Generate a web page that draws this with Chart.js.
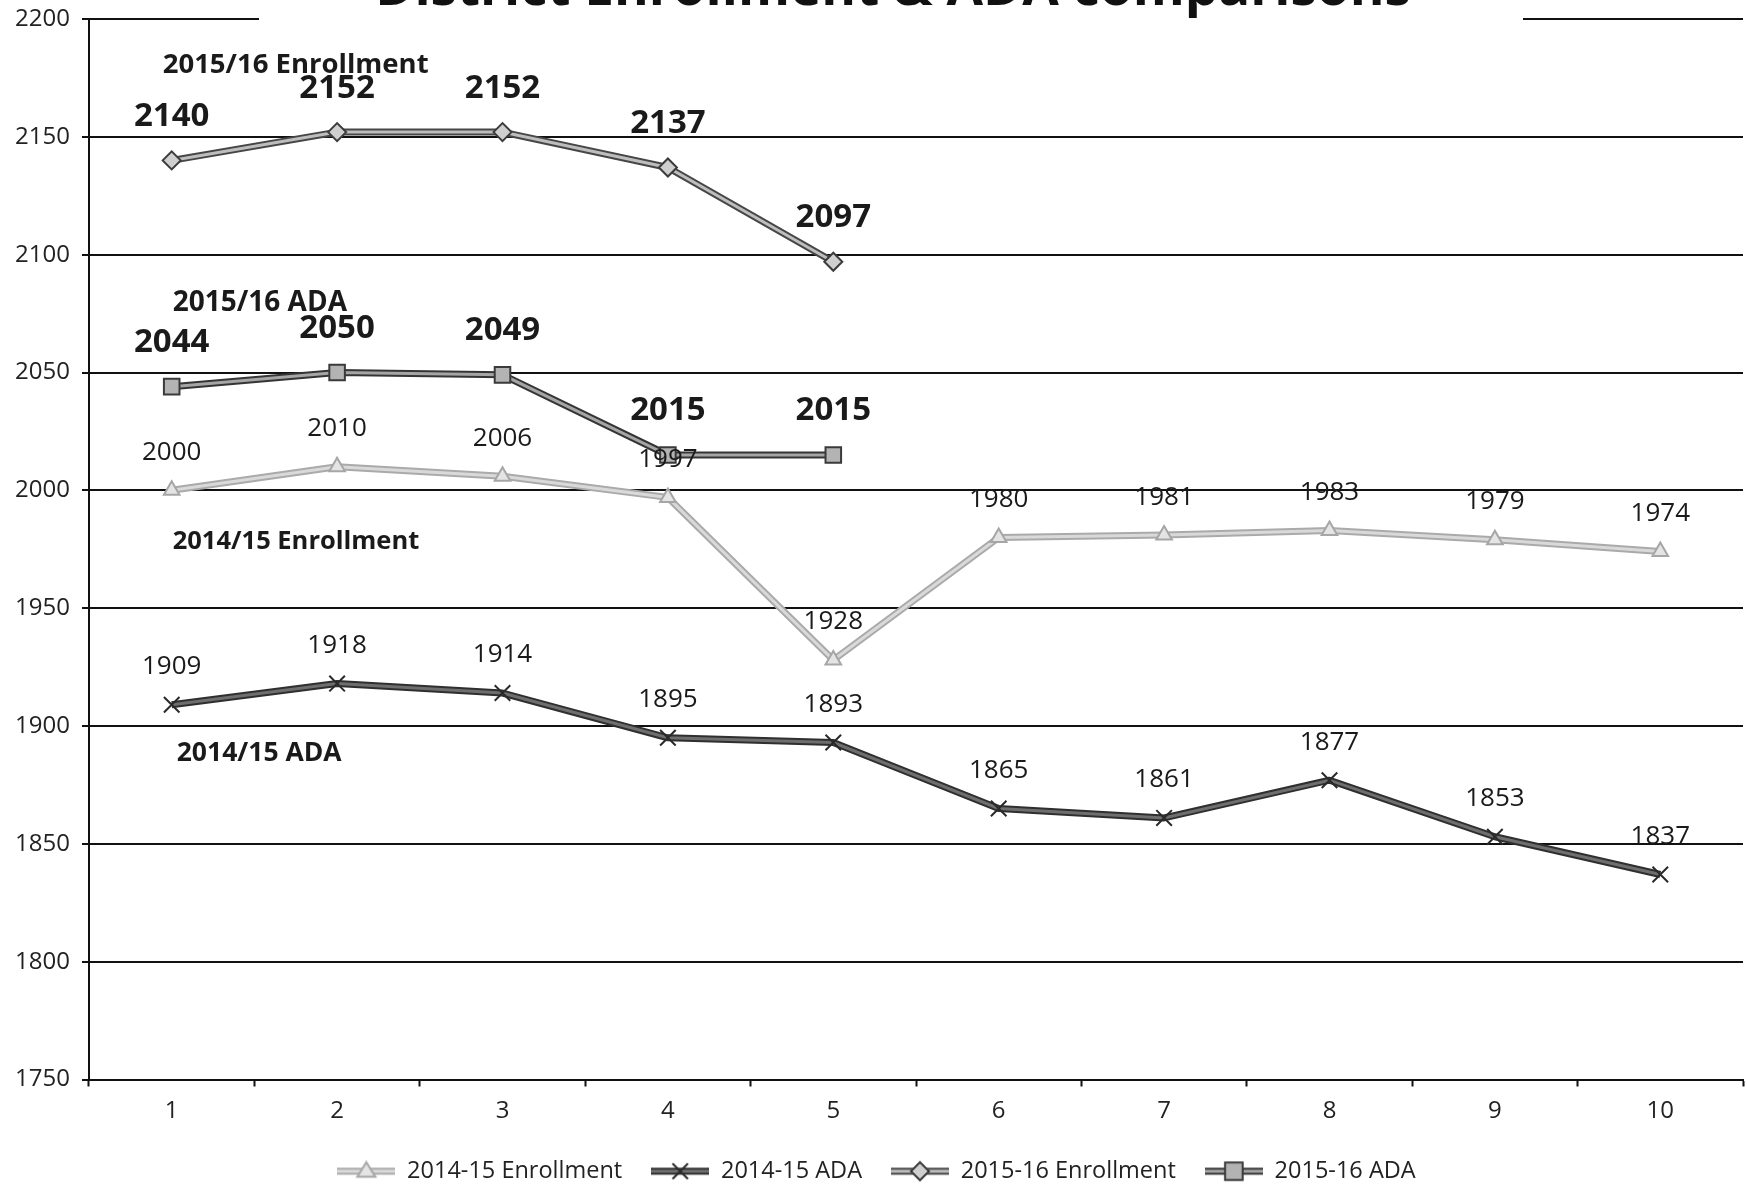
<!DOCTYPE html>
<html>
<head>
<meta charset="utf-8">
<script src="https://cdn.jsdelivr.net/npm/chart.js@4.4.1/dist/chart.umd.min.js"></script>
<style>
  html, body { margin: 0; padding: 0; background: #fff; overflow: hidden; }
  #wrap { position: relative; width: 1756px; height: 1193px; }
</style>
</head>
<body>
<div id="wrap"><canvas id="grafico"></canvas></div>
<script>
// Datos
const MESES = ['1', '2', '3', '4', '5', '6', '7', '8', '9', '10'];
const MATRICULA_1415 = [2000, 2010, 2006, 1997, 1928, 1980, 1981, 1983, 1979, 1974];
const ADA_1415 = [1909, 1918, 1914, 1895, 1893, 1865, 1861, 1877, 1853, 1837];
const MATRICULA_1516 = [2140, 2152, 2152, 2137, 2097, null, null, null, null, null];
const ADA_1516 = [2044, 2050, 2049, 2015, 2015, null, null, null, null, null];
const Y_MIN = 1750;
const Y_MAX = 2200;
const Y_PASO = 50;

const TITULO = 'District Enrollment & ADA comparisons';

// Etiquetas de serie escritas dentro del área del gráfico
const NOTAS = [
    { texto: '2015/16 Enrollment', valor: 2180.5, dx: -9, tam: 27.5 },
    { texto: '2015/16 ADA', valor: 2079.4, dx: 1, tam: 28 },
    { texto: '2014/15 Enrollment', valor: 1978.4, dx: 1, tam: 25.5 },
    { texto: '2014/15 ADA', valor: 1888.4, dx: 5, tam: 26.5 },
];

const FUENTE = '"Open Sans", "Liberation Sans", sans-serif';
Chart.defaults.font.family = FUENTE;
Chart.defaults.color = '#222';

/** Icono de leyenda: tramo de línea con el marcador en medio. */
function iconoLeyenda(serie) {
    const c = document.createElement('canvas');
    c.width = 58;
    c.height = 22;
    const g = c.getContext('2d');
    g.lineCap = 'butt';
    g.strokeStyle = serie.contorno;
    g.lineWidth = 7;
    g.beginPath(); g.moveTo(0, 11); g.lineTo(58, 11); g.stroke();
    g.strokeStyle = serie.borderColor;
    g.lineWidth = 3;
    g.beginPath(); g.moveTo(0, 11); g.lineTo(58, 11); g.stroke();
    g.fillStyle = serie.pointBackgroundColor;
    g.strokeStyle = serie.pointBorderColor;
    g.lineWidth = serie.pointBorderWidth;
    g.beginPath();
    const r = serie.pointRadius;
    if (serie.pointStyle === 'triangle') {
        g.moveTo(29, 11 - r); g.lineTo(29 + r, 11 + r * 0.6); g.lineTo(29 - r, 11 + r * 0.6); g.closePath();
        g.fill(); g.stroke();
    } else if (serie.pointStyle === 'crossRot') {
        g.moveTo(29 - r * 0.7, 11 - r * 0.7); g.lineTo(29 + r * 0.7, 11 + r * 0.7);
        g.moveTo(29 + r * 0.7, 11 - r * 0.7); g.lineTo(29 - r * 0.7, 11 + r * 0.7);
        g.stroke();
    } else if (serie.pointStyle === 'rectRot') {
        g.moveTo(29, 11 - r); g.lineTo(29 + r, 11); g.lineTo(29, 11 + r); g.lineTo(29 - r, 11); g.closePath();
        g.fill(); g.stroke();
    } else {
        const l = r * 0.8;
        g.rect(29 - l, 11 - l, l * 2, l * 2);
        g.fill(); g.stroke();
    }
    return c;
}

// Contorno oscuro de cada línea, como en el original escaneado
const contornoLineas = {
    id: 'contornoLineas',
    beforeDatasetDraw(chart, args) {
        const ds = chart.data.datasets[args.index];
        const meta = args.meta;
        const g = chart.ctx;
        g.save();
        g.strokeStyle = ds.contorno;
        g.lineWidth = ds.borderWidth + 4;
        g.lineJoin = 'round';
        g.beginPath();
        let empezado = false;
        meta.data.forEach((p, i) => {
            if (ds.data[i] == null) return;
            if (!empezado) { g.moveTo(p.x, p.y); empezado = true; } else { g.lineTo(p.x, p.y); }
        });
        g.stroke();
        g.restore();
    },
};

// Valores encima de cada punto y nombres de serie
const etiquetasValor = {
    id: 'etiquetasValor',
    afterDatasetsDraw(chart) {
        const g = chart.ctx;
        g.save();
        g.textAlign = 'center';
        g.textBaseline = 'middle';
        chart.data.datasets.forEach((ds, di) => {
            const meta = chart.getDatasetMeta(di);
            g.font = ds.fuenteValor;
            g.fillStyle = '#1a1a1a';
            meta.data.forEach((p, i) => {
                if (ds.data[i] == null) return;
                g.fillText(String(ds.data[i]), p.x, p.y - ds.alturaValor);
            });
        });
        g.textAlign = 'left';
        const x0 = chart.scales.x.getPixelForValue(0);
        NOTAS.forEach((n) => {
            g.font = 'bold ' + n.tam + 'px ' + FUENTE;
            g.fillText(n.texto, x0 + n.dx, chart.scales.y.getPixelForValue(n.valor));
        });
        g.restore();
    },
};

// Título recortado por el borde superior, con fondo blanco sobre la rejilla
const tituloRecortado = {
    id: 'tituloRecortado',
    afterDraw(chart) {
        const g = chart.ctx;
        g.save();
        g.fillStyle = '#fff';
        g.fillRect(259, 0, 1264, 22);
        g.fillStyle = '#111';
        g.font = 'bold 53px ' + FUENTE;
        g.textAlign = 'center';
        g.textBaseline = 'alphabetic';
        g.fillText(TITULO, 893, 5);
        g.restore();
    },
};

const series = [
    {
        label: '2014-15 Enrollment',
        data: MATRICULA_1415,
        borderColor: '#d9d9d9',
        contorno: '#aaaaaa',
        pointStyle: 'triangle',
        pointRadius: 9,
        pointBackgroundColor: '#e4e4e4',
        pointBorderColor: '#a6a6a6',
        pointBorderWidth: 2,
        fuenteValor: '26px ' + FUENTE,
        alturaValor: 38,
    },
    {
        label: '2014-15 ADA',
        data: ADA_1415,
        borderColor: '#6e6e6e',
        contorno: '#2f2f2f',
        pointStyle: 'crossRot',
        pointRadius: 11,
        pointBackgroundColor: 'rgba(0,0,0,0)',
        pointBorderColor: '#2a2a2a',
        pointBorderWidth: 2,
        fuenteValor: '26px ' + FUENTE,
        alturaValor: 38,
    },
    {
        label: '2015-16 Enrollment',
        data: MATRICULA_1516,
        borderColor: '#bdbdbd',
        contorno: '#464646',
        pointStyle: 'rectRot',
        pointRadius: 9,
        pointBackgroundColor: '#cfcfcf',
        pointBorderColor: '#3c3c3c',
        pointBorderWidth: 2,
        fuenteValor: 'bold 33px ' + FUENTE,
        alturaValor: 44,
    },
    {
        label: '2015-16 ADA',
        data: ADA_1516,
        borderColor: '#a5a5a5',
        contorno: '#353535',
        pointStyle: 'rect',
        pointRadius: 11,
        pointBackgroundColor: '#b3b3b3',
        pointBorderColor: '#3a3a3a',
        pointBorderWidth: 2,
        fuenteValor: 'bold 33px ' + FUENTE,
        alturaValor: 44,
    },
].map((s) => ({ ...s, borderWidth: 3, tension: 0, spanGaps: false, fill: false }));

const iconos = series.map(iconoLeyenda);

new Chart(document.getElementById('grafico'), {
    type: 'line',
    data: { labels: MESES, datasets: series },
    options: {
        responsive: true,
        maintainAspectRatio: false,
        animation: false,
        layout: { padding: { top: 19, right: 3, left: 0, bottom: 0 } },
        scales: {
            x: {
                offset: true,
                grid: {
                    offset: true,
                    drawOnChartArea: false,
                    drawTicks: true,
                    tickLength: 7,
                    tickColor: '#111',
                    tickWidth: 2,
                },
                border: { display: true, color: '#111', width: 2 },
                ticks: { padding: 10, font: { size: 24 }, color: '#222' },
                afterFit: (s) => {
                    s.height = 51;
                    s.paddingLeft = 0;
                    s.paddingRight = 0;
                },
            },
            y: {
                min: Y_MIN,
                max: Y_MAX,
                ticks: {
                    stepSize: Y_PASO,
                    padding: 12,
                    font: { size: 24 },
                    color: '#222',
                    callback: (v) => String(v),
                },
                grid: { color: '#111', lineWidth: 2, tickLength: 7, tickColor: '#111' },
                border: { display: true, color: '#111', width: 2 },
                afterFit: (s) => {
                    s.width = 89;
                    s.paddingTop = 0;
                    s.paddingBottom = 0;
                },
            },
        },
        plugins: {
            title: { display: false },
            tooltip: { enabled: false },
            legend: {
                position: 'bottom',
                labels: {
                    usePointStyle: true,
                    pointStyleWidth: 58,
                    padding: 29,
                    font: { size: 23.5 },
                    color: '#222',
                    generateLabels: (chart) => chart.data.datasets.map((ds, i) => ({
                        text: ds.label,
                        pointStyle: iconos[i],
                        datasetIndex: i,
                        lineWidth: 0,
                        fillStyle: 'rgba(0,0,0,0)',
                        strokeStyle: 'rgba(0,0,0,0)',
                        fontColor: '#222',
                    })),
                },
            },
        },
    },
    plugins: [contornoLineas, etiquetasValor, tituloRecortado],
});
</script>
</body>
</html>
